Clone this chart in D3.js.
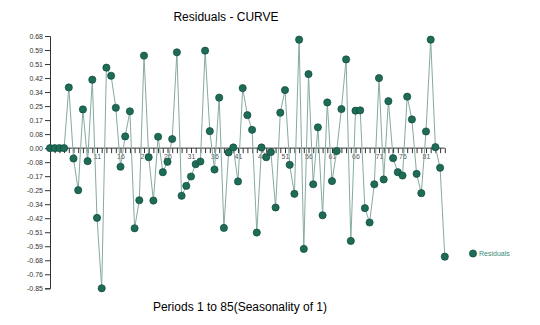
<!DOCTYPE html>
<html><head><meta charset="utf-8">
<script src="https://cdn.jsdelivr.net/npm/d3@7"></script>
<style>body{margin:0;background:#fff;}svg{display:block;}</style>
</head><body>
<svg id="c" width="540" height="325"></svg>
<script>
const periods = d3.range(1, 86);
const residuals = [0,0,0,0,0.368,-0.063,-0.255,0.235,-0.079,0.415,-0.423,-0.850,0.488,0.439,0.245,-0.113,0.071,0.223,-0.486,
 -0.316,0.561,-0.055,-0.318,0.069,-0.146,-0.083,0.055,0.581,-0.289,-0.229,-0.172,-0.097,-0.081,0.591,0.103,-0.130,0.306,
 -0.484,-0.026,0.004,-0.202,0.364,0.200,0.111,-0.512,0.004,-0.055,-0.024,-0.360,0.215,0.352,-0.101,-0.277,0.658,-0.611,
 0.449,-0.219,0.126,-0.407,0.277,-0.200,-0.018,0.237,0.538,-0.563,0.227,0.229,-0.364,-0.451,-0.219,0.425,-0.190,0.285,
 -0.061,-0.146,-0.166,0.312,0.174,-0.156,-0.273,0.101,0.658,0.006,-0.119,-0.658];
const yTickValues = d3.range(-10, 9).map(k => k * 0.085);
const yTickLabels = ["-0.85","-0.76","-0.68","-0.59","-0.51","-0.42","-0.34","-0.25","-0.17","-0.08","0.00","0.08","0.17","0.25","0.34","0.42","0.51","0.59","0.68"];
const xLabelPeriods = [6,11,16,21,26,31,36,41,46,51,56,61,66,71,76,81];
const title = "Residuals - CURVE";
const xTitle = "Periods 1 to 85(Seasonality of 1)";
const seriesName = "Residuals";

const svg = d3.select("#c");
const x = d3.scaleLinear().domain([1, 85]).range([50, 444.8]);
const y = d3.scaleLinear().domain([-0.85, 0.68]).range([288.3, 36]);

// title
svg.append("text").attr("x", 226).attr("y", 21).attr("text-anchor", "middle")
  .attr("font-family", "Liberation Sans, Arial, sans-serif").attr("font-size", 12).attr("fill", "#000").text(title);
svg.append("text").attr("x", 240).attr("y", 311).attr("text-anchor", "middle")
  .attr("font-family", "Liberation Sans, Arial, sans-serif").attr("font-size", 12).attr("fill", "#000").text(xTitle);

// y axis
const yAxis = d3.axisLeft(y).tickValues(yTickValues).tickSize(5).tickPadding(2)
  .tickFormat((d, i) => yTickLabels[i]);
const gy = svg.append("g").attr("transform", "translate(50,0)").call(yAxis);
gy.select(".domain").attr("stroke", "#333");
gy.selectAll(".tick line").attr("stroke", "#333");
gy.selectAll(".tick text").attr("font-family", "Liberation Sans, Arial, sans-serif").attr("font-size", 7).attr("fill", "#333");

// x axis at zero
const xAxis = d3.axisBottom(x).tickValues(periods).tickSize(5).tickPadding(1)
  .tickFormat(d => xLabelPeriods.includes(d) ? String(d) : "");
const gx = svg.append("g").attr("transform", `translate(0,${y(0)})`).call(xAxis);
gx.select(".domain").attr("stroke", "#333").attr("d", `M${x(1)},0H${x(85)}`);
gx.selectAll(".tick line").attr("stroke", "#333");
gx.selectAll(".tick text").attr("font-family", "Liberation Sans, Arial, sans-serif").attr("font-size", 7).attr("fill", "#555");

// line
const line = d3.line().x((d, i) => x(periods[i])).y(d => y(d));
svg.append("path").datum(residuals).attr("d", line).attr("fill", "none")
  .attr("stroke", "#86aaa2").attr("stroke-width", 1);

// points
svg.append("g").selectAll("circle").data(residuals).join("circle")
  .attr("cx", (d, i) => x(periods[i])).attr("cy", d => y(d)).attr("r", 3.6)
  .attr("fill", "#1e6b57").attr("stroke", "#0f4a3b").attr("stroke-width", 0.7);

// legend
svg.append("circle").attr("cx", 473).attr("cy", 253.5).attr("r", 3.6)
  .attr("fill", "#1e6b57").attr("stroke", "#0f4a3b").attr("stroke-width", 0.7);
svg.append("text").attr("x", 479).attr("y", 256).attr("font-family", "Liberation Sans, Arial, sans-serif")
  .attr("font-size", 7).attr("fill", "#3a8a78").text(seriesName);
</script>
</body></html>
